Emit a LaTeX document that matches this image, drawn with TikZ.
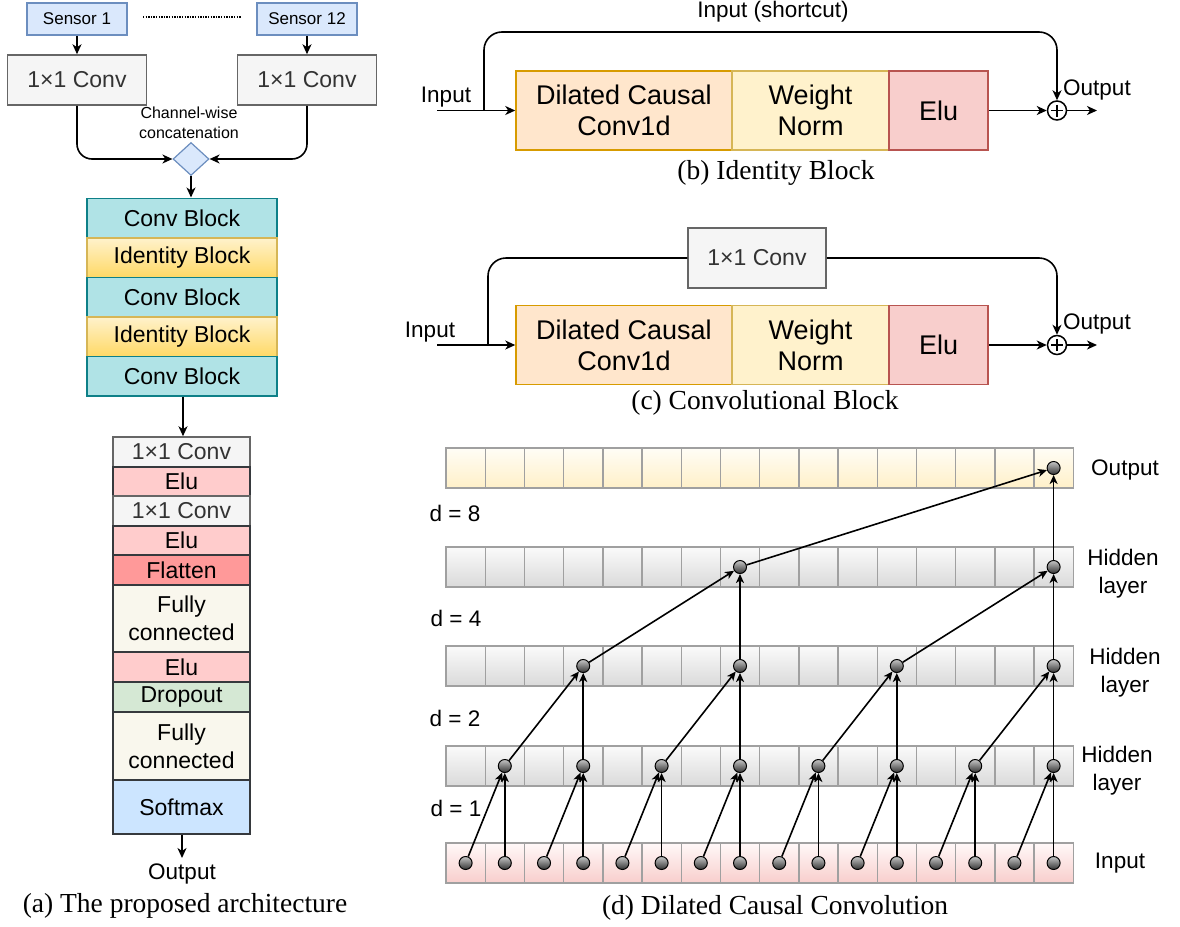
\documentclass[tikz,border=0pt]{standalone}
\usepackage{fontspec}
\setmainfont{Liberation Sans}
\newfontfamily\capfont{Liberation Serif}
\usetikzlibrary{arrows.meta,shapes.geometric,calc}
\definecolor{sensfill}{HTML}{DAE8FC}
\definecolor{sensdraw}{HTML}{6C8EBF}
\definecolor{convfill}{HTML}{F5F5F5}
\definecolor{convdraw}{HTML}{666666}
\definecolor{convtext}{HTML}{333333}
\definecolor{cbfill}{HTML}{B0E3E6}
\definecolor{cbdraw}{HTML}{0E8088}
\definecolor{idtop}{HTML}{FFF2CC}
\definecolor{idbot}{HTML}{FFD966}
\definecolor{iddraw}{HTML}{D6B656}
\definecolor{dcfill}{HTML}{FFE6CC}
\definecolor{dcdraw}{HTML}{D79B00}
\definecolor{wnfill}{HTML}{FFF2CC}
\definecolor{elufill}{HTML}{F8CECC}
\definecolor{eludraw}{HTML}{B85450}
\definecolor{elutwo}{HTML}{FFCCCC}
\definecolor{darkdraw}{HTML}{36393D}
\definecolor{flatfill}{HTML}{FF9999}
\definecolor{fcfill}{HTML}{F9F7ED}
\definecolor{dropfill}{HTML}{D5E8D4}
\definecolor{softfill}{HTML}{CCE5FF}
\definecolor{cellline}{HTML}{A0A0A0}
\definecolor{ctop}{HTML}{FAFAFA}
\definecolor{cbot}{HTML}{DADADA}
\definecolor{otop}{HTML}{FFFDF6}
\definecolor{obot}{HTML}{FFF0C8}
\definecolor{itop}{HTML}{FFF8F8}
\definecolor{ibot}{HTML}{F8CECC}
\tikzset{
  blk/.style={draw, line width=1.5pt, inner sep=0pt, align=center,
    font=\fontsize{23}{28}\selectfont},
  sensor/.style={blk, fill=sensfill, draw=sensdraw, minimum width=100, minimum height=32,
    font=\fontsize{17}{20}\selectfont},
  onebyone/.style={blk, fill=convfill, draw=convdraw, text=convtext},
  cblock/.style={blk, fill=cbfill, draw=cbdraw, minimum width=190, minimum height=39.5},
  iblock/.style={blk, top color=idtop, bottom color=idbot, draw=iddraw, minimum width=190, minimum height=39.5},
  lstack/.style={blk, draw=darkdraw, minimum width=137},
  big/.style={blk, font=\fontsize{27}{31}\selectfont, minimum height=79},
  arr/.style={line width=1.6pt, -{Stealth[length=10pt,width=9pt,inset=3pt]}},
  darr/.style={line width=1.6pt, -{Stealth[length=9pt,width=8pt,inset=2.5pt]}},
  plusnode/.style={circle, draw, line width=1.5pt, minimum size=19, inner sep=0pt,
    path picture={
      \draw[line width=1.3pt, shorten <=3.5pt, shorten >=3.5pt] (path picture bounding box.west) -- (path picture bounding box.east);
      \draw[line width=1.3pt, shorten <=3.5pt, shorten >=3.5pt] (path picture bounding box.north) -- (path picture bounding box.south);}},
  lbl/.style={inner sep=0pt, align=center, font=\fontsize{22.5}{28}\selectfont},
  caption/.style={inner sep=0pt, font=\capfont\fontsize{27.5}{32}\selectfont},
  cellg/.style={draw=cellline, line width=1.4pt, top color=ctop, bottom color=cbot},
  cello/.style={draw=cellline, line width=1.4pt, top color=otop, bottom color=obot},
  celli/.style={draw=cellline, line width=1.4pt, top color=itop, bottom color=ibot},
  ball/.style={circle, draw=black, line width=1pt, minimum size=13, inner sep=0pt,
    top color=gray!45, bottom color=black!80}
}
\begin{document}
\begin{tikzpicture}[x=1pt,y=-1pt]
\useasboundingbox (0,0) rectangle (1180,926);

% ---------- (a) ----------
\node[sensor] (s1) at (77,19) {Sensor 1};
\node[sensor] (s12) at (307,19) {Sensor 12};
\draw[line width=1.2pt, dash pattern=on 1.3pt off 1.3pt] (143,17) -- (241,17);
\node[onebyone, minimum width=139, minimum height=50] (cl) at (77,80) {1×1 Conv};
\node[onebyone, minimum width=139, minimum height=50] (cr) at (307,80) {1×1 Conv};
\draw[arr] (s1) -- (cl);
\draw[arr] (s12) -- (cr);
\node[diamond, aspect=1, draw=sensdraw, fill=sensfill, line width=1.2pt, minimum width=36, minimum height=33, inner sep=0pt] (dia) at (191,159) {};
\node[lbl, font=\fontsize{16}{20}\selectfont] (cwc) at (189,123) {Channel-wise\\concatenation};
\draw[arr, rounded corners=15] (cl.south) |- (dia.west);
\draw[arr, rounded corners=15] (cr.south) |- (dia.east);

\node[cblock] (b1) at (182,218) {Conv Block};
\node[iblock] (b2) at (182,257.5) {Identity Block};
\node[cblock] (b3) at (182,297) {Conv Block};
\node[iblock] (b4) at (182,336.5) {Identity Block};
\node[cblock] (b5) at (182,376) {Conv Block};
\draw[arr] (dia.south) -- (b1.north -| dia.south);

\node[onebyone, minimum width=137, minimum height=30] (l1) at (181.5,452) {1×1 Conv};
\node[lstack, fill=elutwo, minimum height=29] (l2) at (181.5,481.5) {Elu};
\node[onebyone, minimum width=137, minimum height=30] (l3) at (181.5,511) {1×1 Conv};
\node[lstack, fill=elutwo, minimum height=29] (l4) at (181.5,540.5) {Elu};
\node[lstack, fill=flatfill, minimum height=30] (l5) at (181.5,570) {Flatten};
\node[lstack, fill=fcfill, minimum height=67] (l6) at (181.5,618.5) {Fully\\connected};
\node[lstack, fill=elutwo, minimum height=30] (l7) at (181.5,667) {Elu};
\node[lstack, fill=dropfill, minimum height=30] (l8) at (181.5,697) {Dropout};
\node[lstack, fill=fcfill, minimum height=68] (l9) at (181.5,746) {Fully\\connected};
\node[lstack, fill=softfill, minimum height=54] (l10) at (181.5,807) {Softmax};
\draw[arr] (b5.south -| 183,0) -- (l1.north -| 183,0);
\coordinate (aout) at (182,858);
\draw[arr] (l10.south -| aout) -- (aout);
\node[lbl] (aoutl) at (182,874) {Output};
\node[caption] (capa) at (185,906) {(a) The proposed architecture};

% ---------- (b) ----------
\node[big, fill=dcfill, draw=dcdraw, minimum width=216] (dcb) at (624,110.5) {Dilated Causal\\Conv1d};
\node[big, fill=wnfill, draw=iddraw, minimum width=157] (wnb) at (810.5,110.5) {Weight\\Norm};
\node[big, fill=elufill, draw=eludraw, minimum width=99] (elb) at (938.5,110.5) {Elu};
\node[plusnode] (pb) at (1057,110.5) {};
\coordinate (inb) at (437,110.5);
\coordinate (brb) at (484,110.5);
\coordinate (outb) at (1097,110.5);
\node[lbl] (inbl) at (446,97) {Input};
\draw[arr] (inb) -- (dcb.west);
\draw[arr, rounded corners=18] (brb) -- (484,32) -- (1057,32) -- (pb.north);
\node[lbl] (scl) at (773,12) {Input (shortcut)};
\draw[arr] (elb.east) -- (pb.west);
\draw[arr] (pb.east) -- (outb);
\node[lbl, anchor=west] (outbl) at (1063,90) {Output};
\node[caption] (capb) at (776,173) {(b) Identity Block};

% ---------- (c) ----------
\node[big, fill=dcfill, draw=dcdraw, minimum width=216] (dcc) at (624,345) {Dilated Causal\\Conv1d};
\node[big, fill=wnfill, draw=iddraw, minimum width=157] (wnc) at (810.5,345) {Weight\\Norm};
\node[big, fill=elufill, draw=eludraw, minimum width=99] (elc) at (938.5,345) {Elu};
\node[onebyone, minimum width=138, minimum height=60] (scc) at (757,258) {1×1 Conv};
\node[plusnode] (pc) at (1057,345) {};
\coordinate (inc) at (437,345);
\coordinate (brc) at (488,345);
\coordinate (outc) at (1097,345);
\node[lbl] (incl) at (430,332) {Input};
\draw[arr] (inc) -- (dcc.west);
\draw[line width=1.6pt, rounded corners=18] (brc) -- (488,258) -- (scc.west);
\draw[arr, rounded corners=18] (scc.east) -- (1057,258) -- (pc.north);
\draw[arr] (elc.east) -- (pc.west);
\draw[arr] (pc.east) -- (outc);
\node[lbl, anchor=west] (outcl) at (1063,324) {Output};
\node[caption] (capc) at (765,403) {(c) Convolutional Block};

% ---------- (d) ----------
\foreach \top/\sty in {448/cello, 547/cellg, 646/cellg, 746/cellg, 843/celli} {
  \foreach \i in {0,...,15} {
    \pgfmathsetmacro\xl{446+39.2*\i}
    \path[\sty] (\xl,\top) rectangle ++(39.2,40);
  }
}
\foreach \i in {0,...,15} \node[ball] (i\i) at ({446+39.2*(\i+0.5)},863) {};
\foreach \i in {1,3,...,15} \node[ball] (c\i) at ({446+39.2*(\i+0.5)},766) {};
\foreach \i in {3,7,11,15} \node[ball] (b\i) at ({446+39.2*(\i+0.5)},666) {};
\foreach \i in {7,15} \node[ball] (a\i) at ({446+39.2*(\i+0.5)},567) {};
\node[ball] (o15) at ({446+39.2*15.5},468) {};
\foreach \i in {1,3,...,15} {
  \pgfmathtruncatemacro\j{\i-1}
  \draw[darr] (i\j) -- (c\i);
  \draw[darr] (i\i) -- (c\i);
}
\foreach \i in {3,7,11,15} {
  \pgfmathtruncatemacro\j{\i-2}
  \draw[darr] (c\j) -- (b\i);
  \draw[darr] (c\i) -- (b\i);
}
\foreach \i in {7,15} {
  \pgfmathtruncatemacro\j{\i-4}
  \draw[darr] (b\j) -- (a\i);
  \draw[darr] (b\i) -- (a\i);
}
\draw[darr] (a7) -- (o15);
\draw[darr] (a15) -- (o15);

\node[lbl] (lo) at (1125,470) {Output};
\node[lbl] (lh1) at (1123,574) {Hidden\\layer};
\node[lbl] (lh2) at (1125,673) {Hidden\\layer};
\node[lbl] (lh3) at (1117,771) {Hidden\\layer};
\node[lbl] (li) at (1120,863) {Input};
\node[lbl] (d8) at (455,513) {d = 8};
\node[lbl] (d4) at (456,618) {d = 4};
\node[lbl] (d2) at (455,718) {d = 2};
\node[lbl] (d1) at (456,808) {d = 1};
\node[caption] (capd) at (775,908) {(d) Dilated Causal Convolution};
\end{tikzpicture}
\end{document}
